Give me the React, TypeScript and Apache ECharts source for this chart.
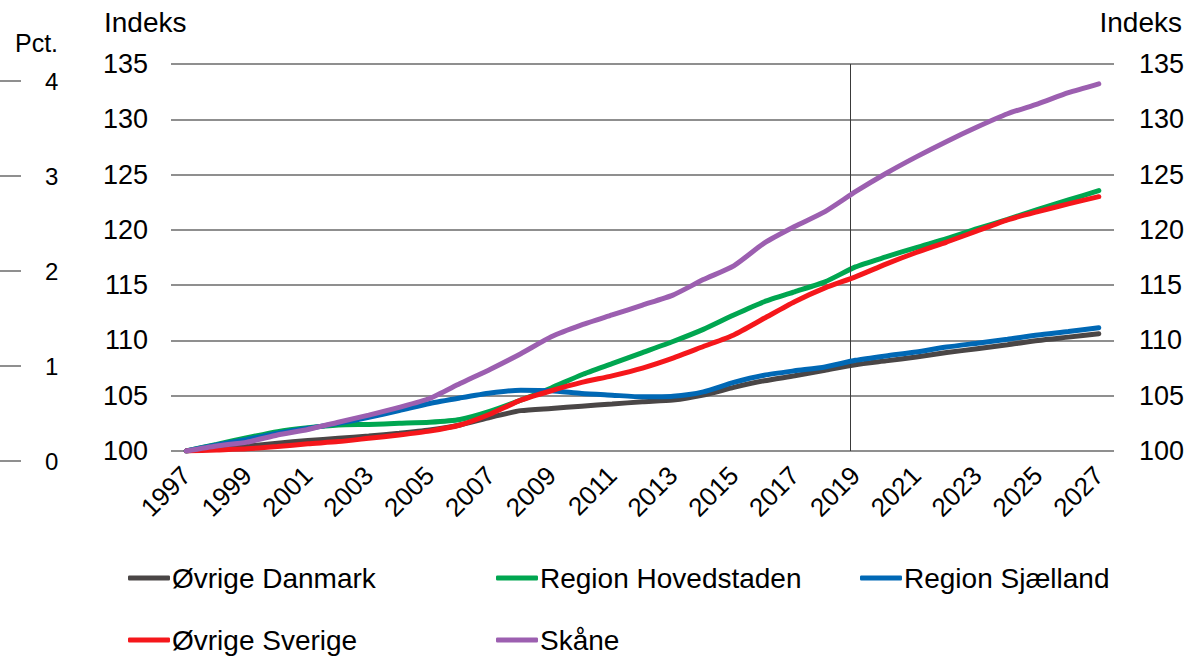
import React, { useEffect, useRef } from "react";
import * as echarts from "echarts";

const YEARS = [
  "1997", "1998", "1999", "2000", "2001", "2002", "2003", "2004", "2005", "2006",
  "2007", "2008", "2009", "2010", "2011", "2012", "2013", "2014", "2015", "2016",
  "2017", "2018", "2019", "2020", "2021", "2022", "2023", "2024", "2025", "2026", "2027",
];

const OVRIGE_DANMARK = [
  100, 100.25, 100.45, 100.7, 100.95, 101.15, 101.35, 101.6, 101.9, 102.35,
  103.05, 103.65, 103.85, 104.05, 104.25, 104.45, 104.6, 105.05, 105.75, 106.35,
  106.8, 107.3, 107.8, 108.15, 108.5, 108.9, 109.25, 109.6, 110.0, 110.3, 110.6,
];
const REGION_HOVEDSTADEN = [
  100, 100.6, 101.2, 101.75, 102.1, 102.35, 102.4, 102.5, 102.6, 102.85,
  103.6, 104.6, 105.7, 106.9, 107.9, 108.9, 109.9, 111.0, 112.3, 113.5,
  114.4, 115.3, 116.65, 117.55, 118.4, 119.2, 120.1, 120.95, 121.85, 122.7, 123.55,
];
const REGION_SJAELLAND = [
  100, 100.55, 101.05, 101.6, 102.05, 102.5, 103.05, 103.65, 104.3, 104.8,
  105.25, 105.5, 105.45, 105.2, 105.05, 104.9, 104.95, 105.35, 106.2, 106.85,
  107.25, 107.6, 108.2, 108.6, 108.95, 109.4, 109.75, 110.1, 110.5, 110.8, 111.15,
];
const OVRIGE_SVERIGE = [
  100, 100.1, 100.2, 100.4, 100.65, 100.85, 101.15, 101.45, 101.8, 102.35,
  103.35, 104.6, 105.45, 106.2, 106.8, 107.5, 108.4, 109.45, 110.5, 112.0,
  113.5, 114.75, 115.75, 116.9, 117.95, 118.9, 119.9, 120.9, 121.65, 122.35, 123.0,
];
const SKANE = [
  100, 100.45, 100.8, 101.45, 101.95, 102.6, 103.25, 103.95, 104.75, 106.1,
  107.4, 108.8, 110.33, 111.4, 112.3, 113.2, 114.1, 115.5, 116.75, 118.8,
  120.3, 121.65, 123.45, 125.1, 126.6, 128.0, 129.3, 130.5, 131.4, 132.4, 133.2,
];

const SERIES_NAMES = [
  "Øvrige Danmark",
  "Region Hovedstaden",
  "Region Sjælland",
  "Øvrige Sverige",
  "Skåne",
];
const SERIES_DATA = [OVRIGE_DANMARK, REGION_HOVEDSTADEN, REGION_SJAELLAND, OVRIGE_SVERIGE, SKANE];
const COLORS = ["#4a4646", "#00a650", "#0068b5", "#f5171b", "#9c5fb0"];

// Index scale (left & right), percent scale (far left)
const INDEX_MIN = 100;
const INDEX_MAX = 135;
const INDEX_STEP = 5;
const PCT_MIN = 0;
const PCT_MAX = 4;
const PCT_STEP = 1;

// Forecast divider, expressed as a fractional year
const DIVIDER_YEAR = 2018.84;

const FONT = "'Liberation Sans', Arial, sans-serif";

export default function App() {
  const ref = useRef<HTMLDivElement>(null);

  useEffect(() => {
    const chart = echarts.init(ref.current!, null, { renderer: "svg" });
    const dividerIndex = DIVIDER_YEAR - Number(YEARS[0]);

    const legendCols = [128, 496, 860];
    const legendRows = [564, 626];

    const option: any = {
      animation: false,
      backgroundColor: "#ffffff",
      textStyle: { fontFamily: FONT },
      grid: [
        { left: 171, width: 943, top: 64, height: 387 },
        { left: 0, width: 1, top: 81, height: 380 },
      ],
      xAxis: [
        {
          type: "category",
          gridIndex: 0,
          data: YEARS,
          boundaryGap: true,
          axisLine: { show: false },
          axisTick: { show: false },
          axisLabel: {
            interval: 1,
            rotate: 45,
            fontSize: 26,
            color: "#000",
            fontFamily: FONT,
            margin: 20,
          },
        },
        {
          type: "value",
          gridIndex: 0,
          show: false,
          min: -0.5,
          max: YEARS.length - 0.5,
        },
        { type: "value", gridIndex: 1, show: false, min: 0, max: 1 },
      ],
      yAxis: [
        {
          type: "value",
          gridIndex: 0,
          position: "left",
          min: INDEX_MIN,
          max: INDEX_MAX,
          interval: INDEX_STEP,
          axisLine: { show: false },
          axisTick: { show: false },
          splitLine: { show: true, lineStyle: { color: "#8f8f8f", width: 2 } },
          axisLabel: { fontSize: 27, color: "#000", margin: 23, fontFamily: FONT },
        },
        {
          type: "value",
          gridIndex: 0,
          position: "right",
          min: INDEX_MIN,
          max: INDEX_MAX,
          interval: INDEX_STEP,
          axisLine: { show: false },
          axisTick: { show: false },
          splitLine: { show: false },
          axisLabel: { fontSize: 27, color: "#000", margin: 25, fontFamily: FONT },
        },
        {
          type: "value",
          gridIndex: 1,
          position: "right",
          min: PCT_MIN,
          max: PCT_MAX,
          interval: PCT_STEP,
          axisLine: { show: false },
          axisTick: { show: true, length: 21, lineStyle: { color: "#8f8f8f", width: 2 } },
          splitLine: { show: false },
          axisLabel: { fontSize: 24, color: "#000", margin: 44, fontFamily: FONT },
        },
      ],
      legend: SERIES_NAMES.map((name, i) => ({
        data: [name],
        left: legendCols[i % 3],
        top: legendRows[Math.floor(i / 3)],
        icon: "roundRect",
        itemWidth: 42,
        itemHeight: 5,
        itemGap: 0,
        padding: 0,
        selectedMode: false,
        textStyle: { fontSize: 28, color: "#000", fontFamily: FONT, padding: [0, 0, 0, -3] },
      })),
      graphic: [
        {
          type: "text",
          left: 15,
          top: 30,
          style: { text: "Pct.", fontSize: 25, fill: "#000", fontFamily: FONT },
        },
        {
          type: "text",
          left: 104,
          top: 8,
          style: { text: "Indeks", fontSize: 28, fill: "#000", fontFamily: FONT },
        },
        {
          type: "text",
          right: 7,
          top: 8,
          style: { text: "Indeks", fontSize: 28, fill: "#000", fontFamily: FONT },
        },
      ],
      series: [
        ...SERIES_NAMES.map((name, i) => ({
          name,
          type: "line",
          xAxisIndex: 0,
          yAxisIndex: 0,
          data: SERIES_DATA[i],
          symbol: "none",
          smooth: 0.2,
          color: COLORS[i],
          lineStyle: { color: COLORS[i], width: 5, cap: "round" },
          z: 3 + i,
        })),
        {
          name: "divider",
          type: "line",
          xAxisIndex: 1,
          yAxisIndex: 0,
          data: [],
          symbol: "none",
          clip: false,
          z: 2,
          markLine: {
            silent: true,
            symbol: ["none", "none"],
            label: { show: false },
            lineStyle: { color: "#3a3a3a", width: 1, type: "solid" },
            data: [
              [
                { coord: [dividerIndex, INDEX_MAX] },
                { coord: [dividerIndex, INDEX_MIN] },
              ],
            ],
          },
        },
      ],
    };

    chart.setOption(option);
    return () => chart.dispose();
  }, []);

  return (
    <div
      ref={ref}
      style={{ position: "fixed", left: 0, top: 0, width: 1189, height: 657 }}
    />
  );
}
